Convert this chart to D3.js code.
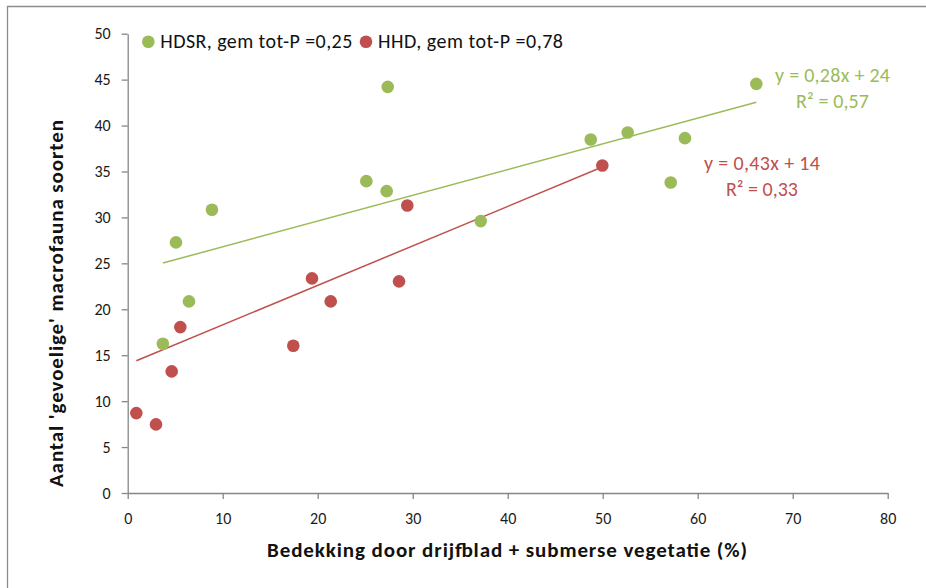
<!DOCTYPE html>
<html>
<head>
<meta charset="utf-8">
<script src="https://cdn.jsdelivr.net/npm/d3@7"></script>
<style>
  html, body { margin: 0; padding: 0; background: #fff; }
  svg { display: block; }
  text { font-family: Carlito, Calibri, Lato, "Open Sans", sans-serif; }
</style>
</head>
<body>
<svg id="chart" width="926" height="588"></svg>
<script>
// HDSR sites: coverage (%) and number of sensitive macrofauna taxa
const hdsrX = [3.7, 6.45, 5.08, 8.87, 25.12, 27.26, 27.37, 37.16, 48.74, 52.63, 57.16, 58.66, 66.17];
const hdsrY = [16.25, 20.86, 27.28, 30.83, 33.95, 32.86, 44.21, 29.6, 38.49, 39.25, 33.8, 38.63, 44.54];
// HHD sites
const hhdX = [0.91, 2.98, 4.63, 5.54, 17.43, 19.4, 21.37, 28.56, 29.43, 49.96];
const hhdY = [8.7, 7.47, 13.24, 18.06, 16.03, 23.36, 20.86, 23.04, 31.3, 35.66];

const seriesNames = ["HDSR, gem tot-P =0,25", "HHD, gem tot-P =0,78"];
const trendSlopes = [0.28, 0.43];
const trendIntercepts = [24, 14];
const trendR2 = [0.57, 0.33];

const xTicks = [0, 10, 20, 30, 40, 50, 60, 70, 80];
const yTicks = [0, 5, 10, 15, 20, 25, 30, 35, 40, 45, 50];

const colors = ["#9BBB59", "#C0504D"];
const axisColor = "#868686";
const fmt = v => String(v).replace(".", ",");

const svg = d3.select("#chart");

// chart area frame
svg.append("path")
  .attr("d", "M7.5,600 V6.5 H1000")
  .attr("fill", "none")
  .attr("stroke", "#8c8c8c")
  .attr("stroke-width", 1.3);

const x = d3.scaleLinear().domain([0, 80]).range([127.7, 887.7]);
const y = d3.scaleLinear().domain([0, 50]).range([493, 33.7]);

// axes
const xAxis = svg.append("g")
  .attr("transform", `translate(0,${y(0)})`)
  .call(d3.axisBottom(x).tickValues(xTicks).tickSize(6).tickPadding(14).tickSizeOuter(0));
const yAxis = svg.append("g")
  .attr("transform", `translate(${x(0)},0)`)
  .call(d3.axisLeft(y).tickValues(yTicks).tickSize(6).tickPadding(11).tickSizeOuter(0));

[xAxis, yAxis].forEach(g => {
  g.select(".domain").attr("stroke", axisColor).attr("stroke-width", 1.3);
  g.selectAll(".tick line").attr("stroke", axisColor).attr("stroke-width", 1.3);
  g.selectAll(".tick text")
    .attr("fill", "#1a1a1a")
    .style("font-size", "16px")
    .style("font-family", "Carlito, Calibri, Lato, sans-serif");
});

// axis titles
svg.append("text")
  .attr("x", 507)
  .attr("y", 557)
  .attr("text-anchor", "middle")
  .attr("font-weight", "bold")
  .attr("font-size", 21)
  .attr("textLength", 480)
  .attr("lengthAdjust", "spacing")
  .attr("fill", "#111")
  .text("Bedekking door drijfblad + submerse vegetatie (%)");

svg.append("text")
  .attr("transform", `translate(63,303.5) rotate(-90)`)
  .attr("text-anchor", "middle")
  .attr("font-weight", "bold")
  .attr("font-size", 21)
  .attr("textLength", 367)
  .attr("lengthAdjust", "spacing")
  .attr("fill", "#111")
  .text("Aantal 'gevoelige' macrofauna soorten");

const series = [
  { xs: hdsrX, ys: hdsrY },
  { xs: hhdX, ys: hhdY }
];

// trendlines, spanning each series' x-extent
series.forEach((s, i) => {
  const [x0, x1] = d3.extent(s.xs);
  const f = v => trendSlopes[i] * v + trendIntercepts[i];
  svg.append("line")
    .attr("x1", x(x0)).attr("y1", y(f(x0)))
    .attr("x2", x(x1)).attr("y2", y(f(x1)))
    .attr("stroke", colors[i])
    .attr("stroke-width", 1.5);
});

// markers
series.forEach((s, i) => {
  svg.append("g").selectAll("circle")
    .data(d3.zip(s.xs, s.ys))
    .join("circle")
    .attr("cx", d => x(d[0]))
    .attr("cy", d => y(d[1]))
    .attr("r", 6.3)
    .attr("fill", colors[i]);
});

// trendline equations
const eqPos = [
  { cx: 832.5, y1: 82, y2: 108, w1: 115, w2: 73 },
  { cx: 762, y1: 169.5, y2: 196, w1: 116, w2: 72 }
];
series.forEach((s, i) => {
  const p = eqPos[i];
  const g = svg.append("g").attr("fill", colors[i]).attr("font-size", 20).attr("text-anchor", "middle");
  g.append("text").attr("x", p.cx).attr("y", p.y1)
    .attr("textLength", p.w1).attr("lengthAdjust", "spacing")
    .text(`y = ${fmt(trendSlopes[i])}x + ${fmt(trendIntercepts[i])}`);
  g.append("text").attr("x", p.cx).attr("y", p.y2)
    .attr("textLength", p.w2).attr("lengthAdjust", "spacing")
    .text(`R² = ${fmt(trendR2[i])}`);
});

// legend
const legendX = [148.3, 366];
const legendW = [192, 185];
seriesNames.forEach((name, i) => {
  svg.append("circle").attr("cx", legendX[i]).attr("cy", 41.7).attr("r", 6.3).attr("fill", colors[i]);
  svg.append("text").attr("x", legendX[i] + 12).attr("y", 48.3)
    .attr("font-size", 20).attr("fill", "#111")
    .attr("textLength", legendW[i]).attr("lengthAdjust", "spacing")
    .text(name);
});
</script>
</body>
</html>
